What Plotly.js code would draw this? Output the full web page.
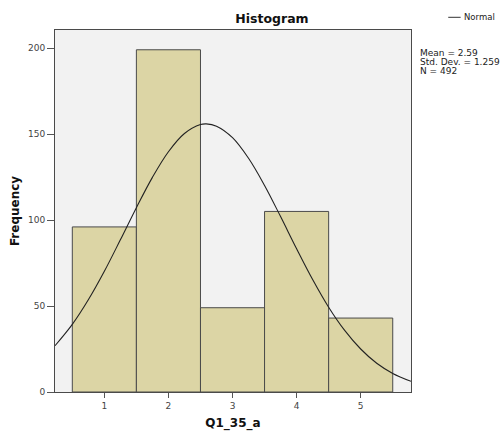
<!DOCTYPE html>
<html>
<head>
<meta charset="utf-8">
<script src="https://cdn.plot.ly/plotly-3.0.1.min.js"></script>
<style>html,body{margin:0;padding:0;background:#fff;}#chart{width:500px;height:434px;}</style>
</head>
<body>
<div id="chart"></div>
<script>
// Histogram bins (category centres) and frequencies
const binCenters = [1, 2, 3, 4, 5];
const frequencies = [96, 199, 49, 105, 43];

// Fitted normal curve
const curveX = [0.23, 0.5, 0.75, 1.0, 1.25, 1.5, 1.75, 2.0, 2.25, 2.5, 2.59, 2.75, 3.0, 3.25, 3.5, 3.75, 4.0, 4.25, 4.5, 4.75, 5.0, 5.25, 5.5, 5.785];
const curveY = [26.9, 39.3, 53.6, 70.2, 88.5, 107.2, 124.8, 139.7, 150.3, 155.5, 155.9, 154.6, 147.9, 135.9, 120.1, 102.0, 83.3, 65.4, 49.3, 35.8, 25.0, 16.7, 10.8, 6.2];

// Tick labels
const xTicks = [1, 2, 3, 4, 5];
const yTicks = [0, 50, 100, 150, 200];

// Summary statistics text
const statLines = ["Mean = 2.59", "Std. Dev. = 1.259", "N = 492"];

const FONT = "DejaVu Sans, sans-serif";

const traces = [
  {
    type: "bar",
    x: binCenters,
    y: frequencies,
    width: 1,
    marker: {color: "#dcd5a5", line: {color: "#4a4a4a", width: 1}},
    showlegend: false,
    hoverinfo: "x+y"
  },
  {
    type: "scatter",
    mode: "lines",
    x: curveX,
    y: curveY,
    line: {color: "#222222", width: 1.1, shape: "spline"},
    name: "Normal",
    showlegend: false
  }
];

const annotations = statLines.map((t, i) => ({
  text: t,
  xref: "paper", yref: "paper",
  x: (418 - 54.5) / (411 - 54.5),
  y: (392 - (53.5 + 9 * i)) / (392 - 30),
  xanchor: "left", yanchor: "middle",
  showarrow: false,
  font: {family: FONT, size: 9, color: "#222"}
}));
annotations.push({
  text: "Normal",
  xref: "paper", yref: "paper",
  x: (462.5 - 54.5) / (411 - 54.5),
  y: (392 - 17) / (392 - 30),
  xanchor: "left", yanchor: "middle",
  showarrow: false,
  font: {family: FONT, size: 8.5, color: "#222"}
});

const layout = {
  width: 500,
  height: 434,
  margin: {l: 54.5, r: 89, t: 30, b: 42, pad: 0},
  paper_bgcolor: "#ffffff",
  plot_bgcolor: "#f2f2f2",
  bargap: 0,
  title: {
    text: "<b>Histogram</b>",
    font: {family: FONT, size: 12.5, color: "#111"},
    xref: "container", yref: "container",
    x: 272 / 500, y: 1 - 19 / 434,
    xanchor: "center", yanchor: "middle"
  },
  xaxis: {
    range: [0.23, 5.785],
    tickvals: xTicks,
    ticktext: xTicks.map(String),
    ticks: "outside",
    ticklen: 5,
    tickcolor: "#555",
    tickfont: {family: FONT, size: 9, color: "#444"},
    showgrid: false,
    zeroline: false,
    showline: true,
    linecolor: "#4a4a4a",
    linewidth: 1,
    mirror: true,
    title: {text: "<b>Q1_35_a</b>", font: {family: FONT, size: 12, color: "#111"}, standoff: 8}
  },
  yaxis: {
    range: [0, 210.5],
    tickvals: yTicks,
    ticktext: yTicks.map(String),
    ticks: "outside",
    ticklen: 7,
    tickcolor: "#555",
    tickfont: {family: FONT, size: 9, color: "#444"},
    showgrid: false,
    zeroline: false,
    showline: true,
    linecolor: "#4a4a4a",
    linewidth: 1,
    mirror: true,
    title: {text: "<b>Frequency</b>", font: {family: FONT, size: 12, color: "#111"}, standoff: 5}
  },
  shapes: [{
    type: "line",
    xref: "paper", yref: "paper",
    x0: (448.3 - 54.5) / (411 - 54.5), x1: (460.7 - 54.5) / (411 - 54.5),
    y0: (392 - 17.3) / (392 - 30), y1: (392 - 17.3) / (392 - 30),
    line: {color: "#333", width: 1}
  }],
  annotations: annotations
};

Plotly.newPlot("chart", traces, layout, {displayModeBar: false, staticPlot: true});
</script>
</body>
</html>
